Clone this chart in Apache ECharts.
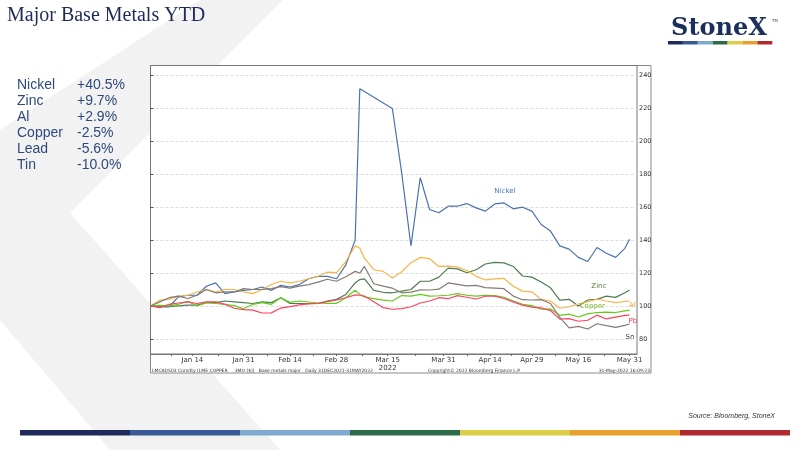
<!DOCTYPE html>
<html>
<head>
<meta charset="utf-8">
<title>Major Base Metals YTD</title>
<script src="https://cdn.jsdelivr.net/npm/echarts@6/dist/echarts.min.js"></script>
<style>
    html, body { margin: 0; padding: 0; background: #fff; }
    #main { width: 800px; height: 450px; }
</style>
</head>
<body>
<div id="main"></div>
<script>
// LME days with no trading inside the window
var holidays = ['2022-01-03', '2022-04-15', '2022-04-18', '2022-05-02'];

// sampled trading days (nickel suspended 8-15 March)
var dates = [
    '2021-12-31', '2022-01-05', '2022-01-07', '2022-01-11', '2022-01-13', '2022-01-17', '2022-01-19',
    '2022-01-21', '2022-01-25', '2022-01-27', '2022-01-31', '2022-02-02', '2022-02-04', '2022-02-08',
    '2022-02-10', '2022-02-14', '2022-02-16', '2022-02-18', '2022-02-22', '2022-02-24', '2022-02-28',
    '2022-03-02', '2022-03-04', '2022-03-07', '2022-03-08', '2022-03-10', '2022-03-14', '2022-03-16',
    '2022-03-18', '2022-03-22', '2022-03-24', '2022-03-28', '2022-03-30', '2022-04-01', '2022-04-05',
    '2022-04-07', '2022-04-11', '2022-04-13', '2022-04-19', '2022-04-21', '2022-04-25', '2022-04-27',
    '2022-04-29', '2022-05-04', '2022-05-06', '2022-05-10', '2022-05-12', '2022-05-16', '2022-05-18',
    '2022-05-20', '2022-05-24', '2022-05-26', '2022-05-30', '2022-05-31'
];

// rebased to 100 at 31 Dec 2021
var nickel = [100, 99.5, 99.5, 105.5, 106.5, 106.5, 112, 114, 107.5, 108.5, 109.5, 110, 111.5, 109.5,
    112.5, 111.5, 113, 116.5, 118, 118, 116.5, 125, 140, 232, null, null, null, 220,
    181, 136.4, 178, 158.6, 156.6, 160.6, 160.6, 162.2, 159.6, 157.6, 162, 162.6, 159, 160,
    157.6, 149.5, 145.5, 136.5, 134.5, 129.5, 127, 135.5, 132, 129.5, 135, 140.5];
var zinc = [100, 99.5, 99.5, 100, 100.5, 100.5, 102, 102, 103, 102.5, 102, 101.5, 102.5, 102,
    105, 101.5, 101.5, 101.5, 101.5, 103, 104, 107, 114, 116, 116.5, 109.5, 108.3, 108,
    109, 110, 115, 115, 117.5, 123, 122.5, 120.2, 122, 125.5, 126.5, 126.2, 124, 118.2,
    117.5, 114.5, 111, 103.5, 104, 100, 103.6, 104, 106, 105.2, 108, 109.7];
var aluminium = [100, 103.5, 104, 106, 106.5, 108.5, 110, 108.5, 110, 110, 108.5, 107.5, 110, 113,
    115, 114, 115, 116.5, 118, 120.5, 120.2, 127, 136.5, 135, 129, 122, 121, 117,
    120.8, 126.3, 129.5, 128.7, 124, 124.2, 123.7, 121.5, 118, 115.8, 116.5, 116.7, 112, 109,
    108.5, 104, 103, 98.6, 99.5, 101.2, 102.5, 104.2, 103, 102, 102.7, 102.9];
var copper = [100, 100.4, 100, 101, 102.8, 100, 102, 101.5, 101, 100.2, 98.3, 101, 102, 101,
    105, 102.2, 103, 102.4, 101.8, 101.6, 101.6, 105, 109.5, 107, 105.5, 104.5, 103.5, 103,
    106.3, 106, 107, 106, 106.2, 106.5, 107.5, 106.5, 106, 106.5, 106.3, 105.3, 103, 101,
    100.2, 98, 98.2, 94.3, 95, 93.3, 95.2, 96, 96.2, 96, 97, 97.5];
var lead = [100, 99, 101, 101.8, 102.5, 101.5, 102.5, 102.5, 101, 98.6, 97.8, 97.5, 95.7, 95.8,
    98.7, 99.6, 100.7, 101.3, 101.6, 102.6, 103.6, 105, 106.7, 106.5, 106, 102.6, 99, 98,
    98.4, 99.5, 101.8, 103, 105, 104.4, 106.3, 105.3, 104.2, 105.9, 106, 104.5, 102.5, 100.5,
    99.3, 98.8, 97.2, 92, 92.3, 90.7, 91.3, 94.4, 92.1, 93.2, 94.3, 94.4];
var tin = [100, 102.5, 105, 106, 104.5, 106.5, 110, 108, 108.5, 108.5, 110.5, 110, 110, 110.5,
    111.7, 110.8, 112, 113, 114.5, 116.2, 115, 117.7, 121, 120, 124, 113.5, 112, 110.8,
    108, 108.4, 109.8, 109.7, 110.2, 114, 113.1, 112.2, 112.5, 111.1, 110.8, 110.5, 106, 103.8,
    103.6, 103.8, 101.5, 93, 86.7, 87.6, 86, 89.2, 88, 87, 88.2, 89];

var axisDates = ['2022-01-14', '2022-01-31', '2022-02-14', '2022-02-28', '2022-03-15',
    '2022-03-31', '2022-04-14', '2022-04-29', '2022-05-16', '2022-05-31'];
var axisNames = ['Jan 14', 'Jan 31', 'Feb 14', 'Feb 28', 'Mar 15\n2022',
    'Mar 31', 'Apr 14', 'Apr 29', 'May 16', 'May 31'];
var yTicks = [80, 100, 120, 140, 160, 180, 200, 220, 240];

var metals = ['Nickel', 'Zinc', 'Al', 'Copper', 'Lead', 'Tin'];
var ytd = ['+40.5%', '+9.7%', '+2.9%', '-2.5%', '-5.6%', '-10.0%'];

// trading days since 31 Dec 2021
function tradingDay(s) {
    var d = new Date('2021-12-31T00:00:00Z');
    var end = new Date(s + 'T00:00:00Z');
    var n = 0;
    while (d < end) {
        d.setUTCDate(d.getUTCDate() + 1);
        var wd = d.getUTCDay();
        if (wd === 0 || wd === 6) continue;
        if (holidays.indexOf(d.toISOString().slice(0, 10)) >= 0) continue;
        n++;
    }
    return n;
}

var xs = dates.map(tradingDay);
function pairs(vals) {
    return xs.map(function (x, i) { return [x, vals[i]]; });
}

var labelAt = {};
var labelDays = axisDates.map(tradingDay);
labelDays.forEach(function (d, i) { labelAt[d] = axisNames[i]; });
var tickDays = labelDays.slice();
for (var i = 1; i < labelDays.length; i++) tickDays.push((labelDays[i - 1] + labelDays[i]) / 2);
tickDays.push(labelDays[0] / 2);

var small = 'DejaVu Sans';

function metal(name, vals, color, tag, tagColor, at, v) {
    return {
        name: name,
        type: 'line',
        data: pairs(vals),
        showSymbol: false,
        connectNulls: true,
        lineStyle: { color: color, width: 1.2 },
        itemStyle: { color: color },
        markPoint: {
            symbol: 'circle',
            symbolSize: 0,
            silent: true,
            label: {
                show: true, position: 'inside', formatter: tag,
                color: tagColor, fontSize: 7, fontFamily: small
            },
            data: [{ coord: [at, v] }]
        }
    };
}

var myChart = echarts.init(document.getElementById('main'));

var graphics = [
    // watermark chevron
    {
        type: 'polygon', z: -2, silent: true,
        shape: { points: [[200, 0], [283, 0], [70, 213], [280, 450], [110, 450], [0, 320], [0, 130]] },
        style: { fill: '#f2f2f2' }
    },
    // chart picture
    {
        type: 'rect', z: -1, silent: true,
        shape: { x: 150.5, y: 65.5, width: 500.5, height: 307.5 },
        style: { fill: '#fff', stroke: '#8a8a8a', lineWidth: 1 }
    },
    {
        type: 'text', left: 7, top: 6,
        style: { text: 'Major Base Metals YTD', font: '20px "Liberation Serif"', fill: '#1f2a5c' }
    },
    {
        type: 'text', z: 5, style: {
            text: 'StoneX', x: 719, y: 29, textAlign: 'center', textVerticalAlign: 'middle',
            font: 'bold 24px "DejaVu Serif"', fill: '#1b2f5b'
        }
    },
    {
        type: 'text', style: { text: 'TM', x: 772, y: 19, font: '4px "DejaVu Sans"', fill: '#555' }
    },
    {
        type: 'text', style: {
            text: 'Source: Bloomberg, StoneX', x: 775, y: 416, textAlign: 'right', textVerticalAlign: 'middle',
            font: 'italic 7px "Liberation Sans"', fill: '#333'
        }
    },
    {
        type: 'text', style: {
            text: 'LMCADS03 Comdty (LME COPPER     3MO ($))   Base metals major   Daily 31DEC2021-31MAY2022',
            x: 152, y: 370.5, textVerticalAlign: 'middle', font: '4.5px "DejaVu Sans"', fill: '#333'
        }
    },
    {
        type: 'text', style: {
            text: 'Copyright\u00a9 2022 Bloomberg Finance L.P.', x: 428, y: 370.5,
            textVerticalAlign: 'middle', font: '4.5px "DejaVu Sans"', fill: '#333'
        }
    },
    {
        type: 'text', style: {
            text: '31-May-2022 16:09:23', x: 650, y: 370.5, textAlign: 'right',
            textVerticalAlign: 'middle', font: '4.5px "DejaVu Sans"', fill: '#333'
        }
    }
];

metals.forEach(function (m, i) {
    graphics.push({
        type: 'text', style: {
            text: m, x: 17, y: 85.5 + i * 16, textVerticalAlign: 'middle',
            font: '14px "Liberation Sans"', fill: '#2c4a7e'
        }
    });
    graphics.push({
        type: 'text', style: {
            text: ytd[i], x: 77, y: 85.5 + i * 16, textVerticalAlign: 'middle',
            font: '14px "Liberation Sans"', fill: '#2c4a7e'
        }
    });
});

var logoBar = ['#1f2a5c', '#3a5a95', '#7eaad0', '#2e6b4a', '#dccf45', '#eaa02e', '#b02a30'];
logoBar.forEach(function (c, i) {
    graphics.push({ type: 'rect', silent: true,
        shape: { x: 668 + i * 14.9, y: 41, width: 14.9, height: 3.5 }, style: { fill: c } });
    graphics.push({ type: 'rect', silent: true,
        shape: { x: 20 + i * 110, y: 430, width: 110, height: 5.5 }, style: { fill: c } });
});

var option = {
    animation: false,
    grid: {
        left: 150.5, right: 163, top: 65.5, bottom: 96,
        show: true, backgroundColor: '#fff', borderColor: '#777', borderWidth: 1
    },
    xAxis: {
        type: 'value',
        min: 0,
        max: 104.6,
        splitLine: { show: false },
        axisLine: { show: true, lineStyle: { color: '#777' } },
        axisTick: { show: true, length: 2, customValues: tickDays, lineStyle: { color: '#666' } },
        axisLabel: {
            customValues: labelDays,
            formatter: function (v) { return labelAt[v] || ''; },
            fontSize: 7, fontFamily: small, color: '#333', margin: 2, lineHeight: 8
        }
    },
    yAxis: {
        type: 'value',
        position: 'right',
        min: 70.8,
        max: 246.1,
        axisLine: { show: true, lineStyle: { color: '#777' } },
        axisTick: { show: true, length: 3, customValues: yTicks, lineStyle: { color: '#555' } },
        axisLabel: {
            customValues: yTicks,
            fontSize: 6.5, fontFamily: small, color: '#333', margin: 2
        },
        splitLine: { show: true, lineStyle: { color: '#d4d4d4', type: [3, 2], width: 0.8 } }
    },
    graphic: graphics,
    series: [
        metal('Nickel', nickel, '#4a72b0', 'Nickel', '#4a72b0', 76.2, 170),
        metal('Zinc', zinc, '#4f7d50', 'Zinc', '#5b7a3a', 96.4, 112.2),
        metal('Al', aluminium, '#f7b548', 'Al', '#f0a830', 103.6, 100.6),
        metal('Copper', copper, '#62cc18', 'Copper', '#78b62c', 95, 100),
        metal('Pb', lead, '#ff4262', 'Pb', '#ff3050', 103.7, 90.9),
        metal('Sn', tin, '#857a74', 'Sn', '#444', 103.1, 81.1)
    ]
};

myChart.setOption(option);
</script>
</body>
</html>
